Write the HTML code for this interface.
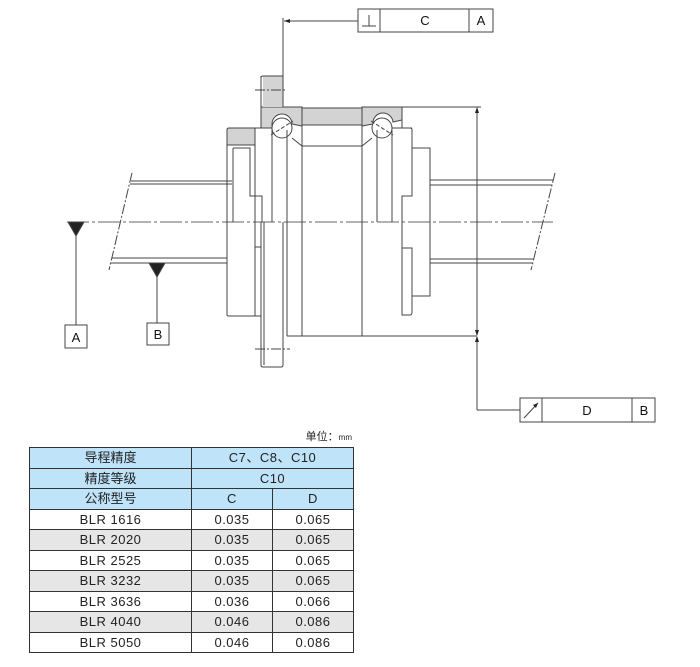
<!DOCTYPE html>
<html><head><meta charset="utf-8"><style>
body{margin:0;background:#fff;width:700px;height:667px;overflow:hidden;position:relative;font-family:"Liberation Sans","Noto Sans CJK SC",sans-serif}
svg{position:absolute;left:0;top:0}
table{position:absolute;left:29px;top:447px;border-collapse:collapse;font-size:13px;color:#222}
td{border:1px solid #333;height:19.5px;padding:0;text-align:center;line-height:19px}
.h td{background:#bfe3f8}
.g td{background:#e6e6e6}
.mono{font-family:"Liberation Sans","Noto Sans CJK SC",sans-serif;font-size:13px;letter-spacing:0.5px}
</style></head><body>
<svg width="700" height="667" viewBox="0 0 700 667" font-family="Liberation Sans, sans-serif">
<g stroke="#444" stroke-width="1" fill="none">
<line x1="67" y1="222" x2="553" y2="222" stroke-dasharray="22,3,3,3" stroke="#666"/>
<line x1="131" y1="181" x2="232" y2="181"/><line x1="130" y1="184" x2="232" y2="184"/>
<line x1="112" y1="258" x2="227" y2="258"/><line x1="111" y1="263" x2="227" y2="263"/>
<line x1="132" y1="173" x2="109" y2="270" stroke-dasharray="10,2,2,2"/>
<line x1="430" y1="180" x2="553" y2="180"/><line x1="430" y1="185" x2="552" y2="185"/>
<line x1="430" y1="259" x2="533" y2="259"/><line x1="430" y1="263" x2="532" y2="263"/>
<line x1="555" y1="173" x2="531" y2="270" stroke-dasharray="10,2,2,2"/>
<path d="M261 107 H302 V126 L292 124 A10 10 0 0 0 272 124 V128 H261 Z" fill="#d3d3d3"/>
<path d="M263 76 H283 V107 H263 Z" fill="#d3d3d3" stroke="none"/>
<path d="M261 78 Q261 76 263 76 H283 V107" />
<rect x="302" y="108" width="60" height="17" fill="#d3d3d3"/>
<path d="M362 107 H402 V120 L393 122 A10 10 0 0 0 373 124 L362 126 Z" fill="#d3d3d3"/>
<path d="M227 130 Q227 128 229 128 H255 V145 H227 Z" fill="#d3d3d3"/>
<line x1="261" y1="76" x2="261" y2="128"/>
<circle cx="282" cy="128" r="10" fill="#fff"/>
<circle cx="382" cy="128" r="10" fill="#fff"/>
<line x1="271" y1="135" x2="293" y2="121" stroke-dasharray="4,2"/>
<line x1="371" y1="121" x2="393" y2="135" stroke-dasharray="4,2"/>
<line x1="283" y1="76" x2="283" y2="18"/>
<line x1="255" y1="128" x2="272" y2="128"/><line x1="392" y1="128" x2="412" y2="128"/>
<line x1="272" y1="128" x2="272" y2="222"/>
<line x1="287" y1="130" x2="287" y2="336"/>
<line x1="302" y1="126" x2="302" y2="336"/>
<line x1="362" y1="126" x2="362" y2="336"/>
<line x1="377" y1="130" x2="377" y2="222"/>
<line x1="392" y1="130" x2="392" y2="222"/>
<line x1="402" y1="107" x2="402" y2="128"/>
<line x1="292" y1="138" x2="302" y2="146"/><line x1="302" y1="146" x2="362" y2="146"/><line x1="362" y1="146" x2="372" y2="138"/>
<line x1="287" y1="336" x2="477" y2="336"/>
<line x1="402" y1="107" x2="481" y2="107"/>
<path d="M227 145 V315 Q227 316 229 316 H255 V145"/>
<path d="M233 148 H250 V196 H262 V222"/>
<path d="M233 148 V222"/>
<line x1="255" y1="247" x2="261" y2="247"/>
<line x1="261" y1="222" x2="261" y2="365"/><line x1="264" y1="222" x2="264" y2="365"/>
<path d="M261 365 Q261 367 263 367 H281 Q283 367 283 365 V222"/>
<line x1="255" y1="316" x2="261" y2="316"/>
<line x1="255" y1="90" x2="287" y2="90" stroke-dasharray="10,2,2,2"/>
<line x1="255" y1="349" x2="290" y2="349" stroke-dasharray="10,2,2,2"/>
<path d="M402 128 H410 Q412 128 412 130 V196 H402 V222"/>
<path d="M412 148 H430 V296 H412"/>
<path d="M402 248 H412 V312 Q412 315 410 315 H402 V222"/>
<path d="M68 222 H84 L76 236 Z" fill="#222"/>
<line x1="76" y1="236" x2="76" y2="325"/>
<rect x="65" y="325" width="22" height="23" fill="#fff"/>
<path d="M149 263 H165 L157 277 Z" fill="#222"/>
<line x1="157" y1="277" x2="157" y2="323"/>
<rect x="147" y="323" width="22" height="22" fill="#fff"/>
<rect x="358" y="9" width="135" height="23" fill="#fff"/>
<line x1="380" y1="9" x2="380" y2="32"/><line x1="469" y1="9" x2="469" y2="32"/>
<line x1="284" y1="21" x2="358" y2="21"/>
<line x1="362" y1="26" x2="376" y2="26"/><line x1="369" y1="15" x2="369" y2="26"/>
<line x1="477" y1="110" x2="477" y2="333"/>
<line x1="477" y1="340" x2="477" y2="410"/>
<line x1="477" y1="410" x2="520" y2="410"/>
<rect x="520" y="398" width="135" height="24" fill="#fff"/>
<line x1="542" y1="398" x2="542" y2="422"/><line x1="632" y1="398" x2="632" y2="422"/>
<line x1="524" y1="418" x2="538" y2="403"/>
</g>
<g fill="#222">
<path d="M284 21 L290 19 L290 23 Z"/>
<path d="M477 107 L475 113 L479 113 Z"/>
<path d="M477 336 L475 330 L479 330 Z"/>
<path d="M477 336 L475 342 L479 342 Z"/>
<path d="M538 403 L533 405 L536 408 Z"/>
</g>
<g font-size="13" fill="#111" text-anchor="middle">
<text x="76" y="342">A</text>
<text x="158" y="339">B</text>
<text x="425" y="25">C</text>
<text x="481" y="25">A</text>
<text x="587" y="415">D</text>
<text x="644" y="415">B</text>
</g>
<text x="352" y="440" font-size="11" text-anchor="end" fill="#222" font-family="Liberation Sans, Noto Sans CJK SC, sans-serif">单位：<tspan font-size="8">mm</tspan></text>
</svg>
<table>
<tr class="h"><td style="width:161px">导程精度</td><td colspan="2" class="mono">C7、C8、C10</td></tr>
<tr class="h"><td>精度等级</td><td colspan="2" class="mono">C10</td></tr>
<tr class="h"><td>公称型号</td><td style="width:80px" class="mono">C</td><td style="width:80px" class="mono">D</td></tr>
<tr><td class="mono">BLR 1616</td><td class="mono">0.035</td><td class="mono">0.065</td></tr>
<tr class="g"><td class="mono">BLR 2020</td><td class="mono">0.035</td><td class="mono">0.065</td></tr>
<tr><td class="mono">BLR 2525</td><td class="mono">0.035</td><td class="mono">0.065</td></tr>
<tr class="g"><td class="mono">BLR 3232</td><td class="mono">0.035</td><td class="mono">0.065</td></tr>
<tr><td class="mono">BLR 3636</td><td class="mono">0.036</td><td class="mono">0.066</td></tr>
<tr class="g"><td class="mono">BLR 4040</td><td class="mono">0.046</td><td class="mono">0.086</td></tr>
<tr><td class="mono">BLR 5050</td><td class="mono">0.046</td><td class="mono">0.086</td></tr>
</table>
</body></html>
